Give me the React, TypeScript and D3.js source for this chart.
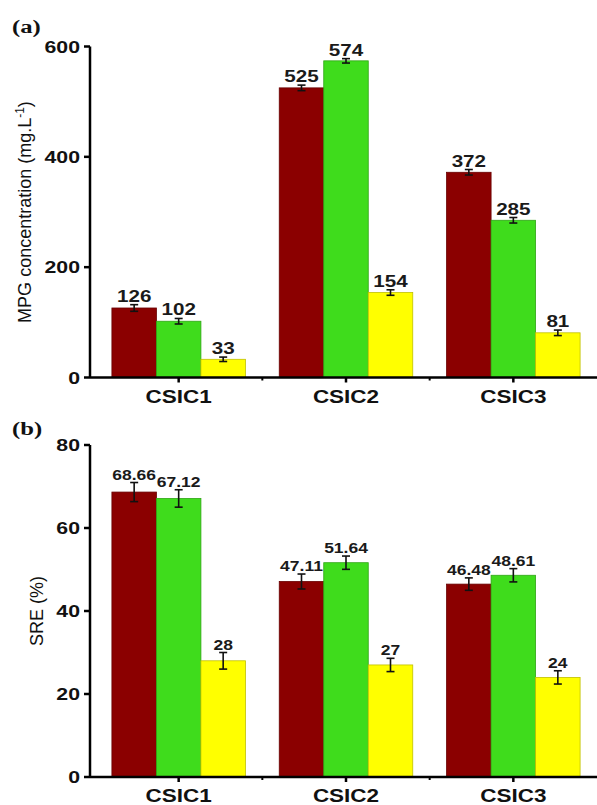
import React from "react";
import * as d3 from "d3";

// categories and series
const categories = ["CSIC1", "CSIC2", "CSIC3"];
const seriesKeys = ["s1", "s2", "s3"];
const barColors = ["#8b0000", "#3fdc1c", "#ffff00"];

// (a) MPG concentration (mg.L-1)
const mpgS1 = [126, 525, 372];
const mpgS2 = [102, 574, 285];
const mpgS3 = [33, 154, 81];
const mpgErr1 = [6, 5, 5];
const mpgErr2 = [5, 4, 5];
const mpgErr3 = [4, 5, 5];
const mpgTicks = [0, 200, 400, 600];

// (b) SRE (%)
const sreS1 = [68.66, 47.11, 46.48];
const sreS2 = [67.12, 51.64, 48.61];
const sreS3 = [28, 27, 24];
const sreErr1 = [2.3, 1.8, 1.5];
const sreErr2 = [2.1, 1.6, 1.6];
const sreErr3 = [2, 1.6, 1.6];
const sreTicks = [0, 20, 40, 60, 80];

const SX = 1.25; // text in the picture is stretched horizontally
const sans = "'Liberation Sans', Arial, sans-serif";

type PanelProps = {
  yTop: number;
  yBottom: number;
  yMax: number;
  ticks: number[];
  series: number[][];
  errors: number[][];
  tag: string;
  tagY: number;
  title: React.ReactNode;
  titleX: number;
  valueSize: number;
  catBaseline: number;
};

const Panel = ({
  yTop,
  yBottom,
  yMax,
  ticks,
  series,
  errors,
  tag,
  tagY,
  title,
  titleX,
  valueSize,
  catBaseline,
}: PanelProps) => {
  const axisX = 90;
  const x = d3.scaleBand().domain(categories).range([95, 597]);
  const xs = d3
    .scaleBand()
    .domain(seriesKeys)
    .range([0, x.step()])
    .paddingInner(0)
    .paddingOuter(0.38);
  const y = d3.scaleLinear().domain([0, yMax]).range([yBottom, yTop]);
  const bw = xs.bandwidth();

  return (
    <g>
      <text
        transform={`translate(12,${tagY}) scale(1.3,1)`}
        fontFamily="'Liberation Serif', 'Times New Roman', serif"
        fontWeight="bold"
        fontSize={19}
        fill="#111"
      >
        {tag}
      </text>

      {/* bars */}
      {categories.map((c, ci) =>
        seriesKeys.map((k, si) => {
          const v = series[si][ci];
          const col = barColors[si];
          return (
            <rect
              key={c + k}
              x={(x(c) as number) + (xs(k) as number)}
              y={y(v)}
              width={bw}
              height={y(0) - y(v)}
              fill={col}
              stroke={d3.color(col)!.darker(0.8).formatHex()}
              strokeWidth={0.8}
            />
          );
        })
      )}

      {/* error bars and value labels */}
      {categories.map((c, ci) =>
        seriesKeys.map((k, si) => {
          const v = series[si][ci];
          const e = errors[si][ci];
          const cx = (x(c) as number) + (xs(k) as number) + bw / 2;
          const t = y(v + e);
          const b = y(v - e);
          return (
            <g key={"e" + c + k}>
              <line x1={cx} x2={cx} y1={t} y2={b} stroke="#111" strokeWidth={1.6} />
              <line x1={cx - 4} x2={cx + 4} y1={t} y2={t} stroke="#111" strokeWidth={1.6} />
              <line x1={cx - 4} x2={cx + 4} y1={b} y2={b} stroke="#111" strokeWidth={1.6} />
              <text
                transform={`translate(${cx},${t - 3}) scale(${SX},1)`}
                textAnchor="middle"
                fontFamily={sans}
                fontWeight="bold"
                fontSize={valueSize}
                fill="#1a1a1a"
              >
                {String(v)}
              </text>
            </g>
          );
        })
      )}

      {/* y axis */}
      <line x1={axisX} x2={axisX} y1={yTop} y2={yBottom} stroke="#000" strokeWidth={2.5} />
      {ticks.map((t) => (
        <g key={"t" + t}>
          <line x1={axisX - 6} x2={axisX} y1={y(t)} y2={y(t)} stroke="#000" strokeWidth={2.5} />
          <text
            transform={`translate(80,${y(t) + 6}) scale(${SX},1)`}
            textAnchor="end"
            fontFamily={sans}
            fontWeight="bold"
            fontSize={17}
            fill="#111"
          >
            {t}
          </text>
        </g>
      ))}
      <text
        transform={`translate(${titleX},${(yTop + yBottom) / 2}) rotate(-90)`}
        textAnchor="middle"
        fontFamily={sans}
        fontSize={18}
        fill="#111"
      >
        {title}
      </text>

      {/* x axis */}
      <line x1={axisX} x2={597} y1={yBottom} y2={yBottom} stroke="#000" strokeWidth={2.5} />
      {categories.map((c) => {
        const cx = (x(c) as number) + x.bandwidth() / 2;
        return (
          <g key={"x" + c}>
            <line x1={cx} x2={cx} y1={yBottom} y2={yBottom + 5} stroke="#000" strokeWidth={2.5} />
            <text
              transform={`translate(${cx},${catBaseline}) scale(${SX},1)`}
              textAnchor="middle"
              fontFamily={sans}
              fontWeight="bold"
              fontSize={18}
              fill="#111"
            >
              {c}
            </text>
          </g>
        );
      })}
      {categories.slice(1).map((c) => (
        <line
          key={"m" + c}
          x1={x(c) as number}
          x2={x(c) as number}
          y1={yBottom}
          y2={yBottom + 3}
          stroke="#000"
          strokeWidth={2}
        />
      ))}
    </g>
  );
};

export default function App() {
  return (
    <svg
      width={597}
      height={805}
      style={{ position: "absolute", left: 0, top: 0, background: "#fff" }}
    >
      <Panel
        yTop={46.5}
        yBottom={377.5}
        yMax={600}
        ticks={mpgTicks}
        series={[mpgS1, mpgS2, mpgS3]}
        errors={[mpgErr1, mpgErr2, mpgErr3]}
        tag="(a)"
        tagY={33}
        title={
          <>
            MPG concentration (mg.L
            <tspan baselineShift="super" fontSize={12}>
              -1
            </tspan>
            )
          </>
        }
        titleX={31}
        valueSize={16.5}
        catBaseline={403}
      />
      <Panel
        yTop={445}
        yBottom={777}
        yMax={80}
        ticks={sreTicks}
        series={[sreS1, sreS2, sreS3]}
        errors={[sreErr1, sreErr2, sreErr3]}
        tag="(b)"
        tagY={435}
        title="SRE (%)"
        titleX={43}
        valueSize={14}
        catBaseline={802}
      />
    </svg>
  );
}
